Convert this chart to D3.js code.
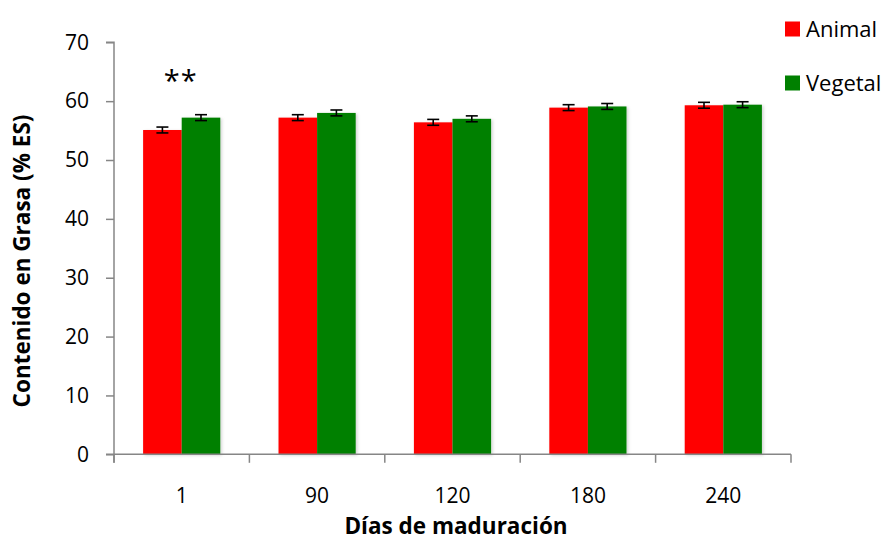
<!DOCTYPE html>
<html>
<head>
<meta charset="utf-8">
<script src="https://cdn.jsdelivr.net/npm/d3@7"></script>
<style>
  html, body { margin: 0; padding: 0; background: #fff; }
  svg { display: block; font-family: "Open Sans", Lato, sans-serif; }
</style>
</head>
<body>
<svg id="chart" width="888" height="541"></svg>
<script>
// Fat content by ripening day, animal vs vegetable
const categories = ["1", "90", "120", "180", "240"];
const seriesNames = ["Animal", "Vegetal"];
const seriesColors = ["#ff0000", "#008000"];
const animalValues = [55.1, 57.2, 56.4, 58.9, 59.3];
const vegetalValues = [57.2, 58.0, 57.0, 59.1, 59.4];
const animalErrors = [0.5, 0.5, 0.5, 0.5, 0.5];
const vegetalErrors = [0.5, 0.5, 0.5, 0.5, 0.5];
const yTicks = [0, 10, 20, 30, 40, 50, 60, 70];
const significance = [{ category: "1", text: "**", y: 61.8 }];

const values = [animalValues, vegetalValues];
const errors = [animalErrors, vegetalErrors];

const svg = d3.select("#chart");
const plotLeft = 114, plotRight = 791, plotTop = 42.3, plotBottom = 454.3;
const axisColor = "#868686";

const y = d3.scaleLinear().domain([0, 70]).range([plotBottom, plotTop]);
const x0 = d3.scaleBand().domain(categories).range([plotLeft, plotRight])
  .paddingInner(0.43).paddingOuter(0.215);
const x1 = d3.scaleBand().domain(seriesNames).range([0, x0.bandwidth()]);

// soft shadow behind bars
const defs = svg.append("defs");
const f = defs.append("filter").attr("id", "shadow")
  .attr("x", "-20%").attr("y", "-5%").attr("width", "140%").attr("height", "110%");
f.append("feDropShadow").attr("dx", 1.5).attr("dy", 1).attr("stdDeviation", 1.5)
  .attr("flood-color", "#000").attr("flood-opacity", 0.18);

// bars
const rows = categories.map((c, i) => seriesNames.map((s, j) => ({
  cat: c, series: s, j, value: values[j][i], err: errors[j][i]
})));

const groups = svg.append("g").selectAll("g").data(rows).join("g")
  .attr("transform", d => `translate(${x0(d[0].cat)},0)`);

groups.selectAll("rect").data(d => d).join("rect")
  .attr("x", d => x1(d.series))
  .attr("y", d => y(d.value))
  .attr("width", x1.bandwidth())
  .attr("height", d => y(0) - y(d.value))
  .attr("fill", d => seriesColors[d.j])
  .attr("filter", "url(#shadow)");

// error bars
const eb = groups.selectAll("g.err").data(d => d).join("g").attr("class", "err")
  .attr("stroke", "#000").attr("stroke-width", 1.6);
const cx = d => x1(d.series) + x1.bandwidth() / 2;
eb.append("line").attr("x1", cx).attr("x2", cx)
  .attr("y1", d => y(d.value + d.err)).attr("y2", d => y(d.value - d.err));
eb.append("line").attr("x1", d => cx(d) - 6).attr("x2", d => cx(d) + 6)
  .attr("y1", d => y(d.value + d.err)).attr("y2", d => y(d.value + d.err));
eb.append("line").attr("x1", d => cx(d) - 6).attr("x2", d => cx(d) + 6)
  .attr("y1", d => y(d.value - d.err)).attr("y2", d => y(d.value - d.err));

// y axis
const yAxis = d3.axisLeft(y).tickValues(yTicks).tickSize(8).tickPadding(17);
const gy = svg.append("g").attr("transform", `translate(${plotLeft},0)`).call(yAxis);
gy.select(".domain").attr("stroke", axisColor).attr("stroke-width", 1.5)
  .attr("d", `M0,${plotBottom + 8.5}V${plotTop}H-8`);
gy.selectAll(".tick line").attr("stroke", axisColor).attr("stroke-width", 1.5);
gy.selectAll(".tick text").attr("fill", "#000").style("font-size", "21px")
  .style("font-family", "'Open Sans', sans-serif");

// x axis: ticks at category boundaries
const xAxisG = svg.append("g").attr("transform", `translate(0,${plotBottom})`);
xAxisG.append("line").attr("x1", plotLeft - 8).attr("x2", plotRight)
  .attr("stroke", axisColor).attr("stroke-width", 1.5);
const bounds = d3.range(categories.length + 1).map(i => plotLeft + i * x0.step());
xAxisG.selectAll("line.tk").data(bounds).join("line").attr("class", "tk")
  .attr("x1", d => d).attr("x2", d => d).attr("y1", 0).attr("y2", 8.5)
  .attr("stroke", axisColor).attr("stroke-width", 1.5);
xAxisG.selectAll("text").data(categories).join("text")
  .attr("x", d => x0(d) + x0.bandwidth() / 2).attr("y", 49)
  .attr("text-anchor", "middle").style("font-size", "21px").text(d => d);

// significance marks
svg.selectAll("text.sig").data(significance).join("text").attr("class", "sig")
  .attr("x", d => x0(d.category) + x0.bandwidth() / 2 - 1)
  .attr("y", d => y(d.y))
  .attr("text-anchor", "middle").style("font-size", "29px")
  .style("letter-spacing", "1px").text(d => d.text);

// axis titles
svg.append("text").attr("x", 456).attr("y", 534).attr("text-anchor", "middle")
  .style("font-size", "22.5px").style("font-weight", "bold").text("Días de maduración");
svg.append("text").attr("transform", "translate(30,261) rotate(-90)")
  .attr("text-anchor", "middle").style("font-size", "22.5px").style("font-weight", "bold")
  .text("Contenido en Grasa (% ES)");

// legend
const legend = svg.append("g").selectAll("g").data(seriesNames).join("g")
  .attr("transform", (d, i) => `translate(785,${21.5 + i * 54})`);
legend.append("rect").attr("width", 15).attr("height", 15)
  .attr("fill", (d, i) => seriesColors[i]);
legend.append("text").attr("x", 21).attr("y", 15).style("font-size", "22px").text(d => d);
</script>
</body>
</html>
